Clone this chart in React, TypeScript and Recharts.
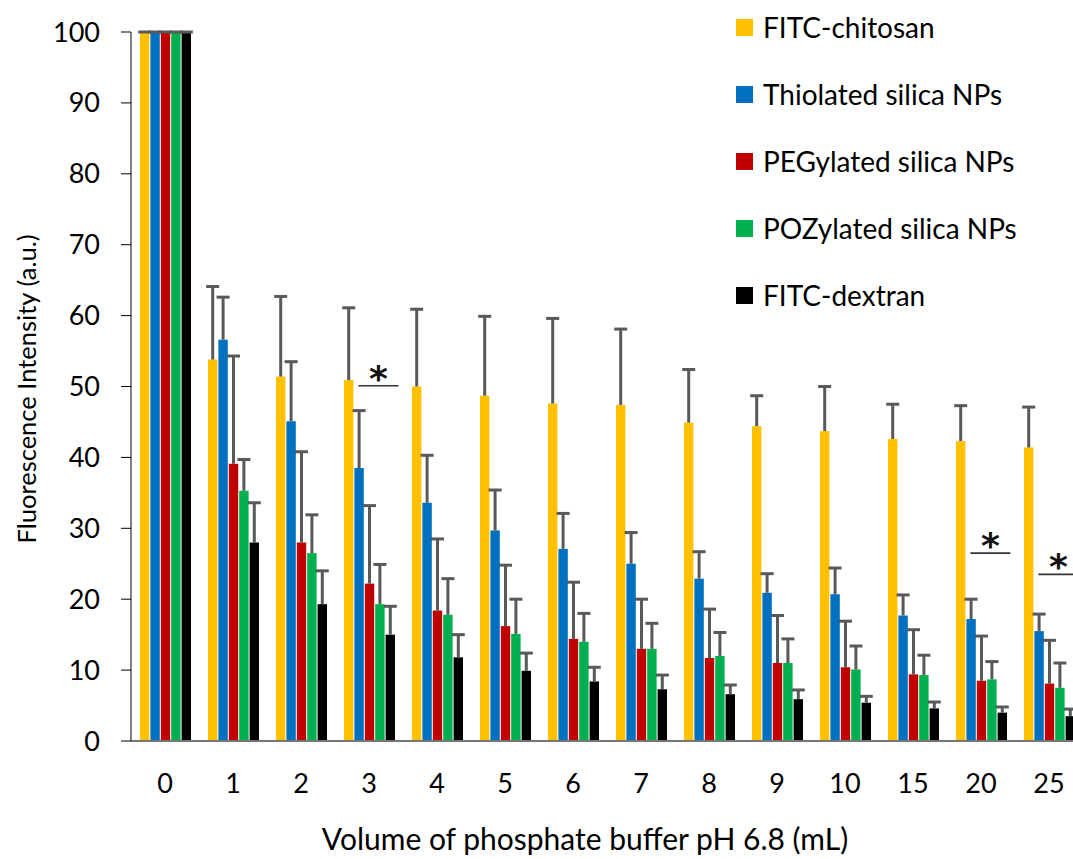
import React from 'react';
import { BarChart, Bar, XAxis, YAxis, Legend, Label } from 'recharts';

const categories = ['0', '1', '2', '3', '4', '5', '6', '7', '8', '9', '10', '15', '20', '25'];

const chitosan = [100, 53.8, 51.4, 50.9, 50.0, 48.7, 47.6, 47.4, 44.9, 44.4, 43.7, 42.6, 42.3, 41.4];
const chitosanErr = [0, 10.3, 11.3, 10.2, 10.9, 11.2, 12.0, 10.7, 7.5, 4.3, 6.3, 4.9, 5.0, 5.7];
const thiolated = [100, 56.6, 45.1, 38.5, 33.6, 29.7, 27.1, 25.0, 22.9, 20.9, 20.7, 17.7, 17.2, 15.5];
const thiolatedErr = [0, 6.0, 8.4, 8.1, 6.7, 5.7, 5.0, 4.4, 3.8, 2.7, 3.7, 2.9, 2.8, 2.4];
const pegylated = [100, 39.1, 28.0, 22.2, 18.4, 16.2, 14.4, 13.0, 11.7, 11.0, 10.4, 9.4, 8.5, 8.1];
const pegylatedErr = [0, 15.2, 12.8, 11.0, 10.1, 8.6, 8.0, 7.0, 6.9, 6.7, 6.5, 6.3, 6.3, 6.1];
const pozylated = [100, 35.3, 26.5, 19.3, 17.8, 15.1, 14.0, 13.0, 12.0, 11.0, 10.1, 9.3, 8.7, 7.5];
const pozylatedErr = [0, 4.4, 5.4, 5.6, 5.1, 4.9, 4.0, 3.6, 3.3, 3.4, 3.3, 2.8, 2.5, 3.5];
const dextran = [100, 28.0, 19.3, 15.0, 11.8, 9.9, 8.4, 7.3, 6.6, 5.9, 5.4, 4.6, 4.0, 3.5];
const dextranErr = [0, 5.6, 4.7, 4.0, 3.2, 2.5, 2.0, 2.0, 1.3, 1.3, 0.9, 0.9, 0.8, 1.0];

// level of the "*" significance bars (null = none)
const significance = [null, null, null, 50.1, null, null, null, null, null, null, null, null, 26.5, 23.5];

const seriesNames = ['FITC-chitosan', 'Thiolated silica NPs', 'PEGylated silica NPs', 'POZylated silica NPs', 'FITC-dextran'];
const seriesColors = ['#FFC000', '#0070C0', '#C00000', '#00B050', '#000000'];
const yTicks = [0, 10, 20, 30, 40, 50, 60, 70, 80, 90, 100];

const values = [chitosan, thiolated, pegylated, pozylated, dextran];
const errors = [chitosanErr, thiolatedErr, pegylatedErr, pozylatedErr, dextranErr];

const data = categories.map((cat, i) => {
  const row: any = { cat, sig: significance[i] };
  values.forEach((arr, s) => {
    row['v' + s] = arr[i];
    row['e' + s] = errors[s][i];
  });
  return row;
});

const FONT = 'Lato, "Open Sans", sans-serif';
const ERR = '#595959';

const makeShape = (s: number) => (props: any) => {
  const { x, y, width, height, fill, payload } = props;
  const v = payload['v' + s];
  const perUnit = v ? height / v : 0;
  const cx = x + width / 2;
  const errTop = y - payload['e' + s] * perUnit;
  let sigMark = null;
  if (s === 0 && payload.sig != null) {
    const ly = y + (v - payload.sig) * perUnit;
    const lx1 = x + width + 5;
    const lx2 = lx1 + 40;
    sigMark = (
      <g>
        <line x1={lx1} y1={ly} x2={lx2} y2={ly} stroke="#333" strokeWidth={1.6} />
        <text x={(lx1 + lx2) / 2} y={ly + 5} textAnchor="middle" fontFamily='"DejaVu Sans", sans-serif' fontWeight="bold" fontSize={36} fill="#111">*</text>
      </g>
    );
  }
  return (
    <g>
      <rect x={x} y={y} width={width} height={height} fill={fill} />
      <line x1={cx} y1={y} x2={cx} y2={errTop} stroke={ERR} strokeWidth={3} />
      <line x1={cx - 6.5} y1={errTop} x2={cx + 6.5} y2={errTop} stroke={ERR} strokeWidth={3} />
      {sigMark}
    </g>
  );
};

const renderLegend = () => (
  <div style={{ fontFamily: FONT, fontSize: 28, color: '#000', whiteSpace: 'nowrap' }}>
    {seriesNames.map((name, s) => (
      <div key={name} style={{ height: 67, display: 'flex', alignItems: 'center' }}>
        <span style={{ width: 17, height: 17, background: seriesColors[s], marginRight: 10, display: 'inline-block' }} />
        {name}
      </div>
    ))}
  </div>
);

export default function App() {
  return (
    <div style={{ position: 'absolute', left: 0, top: 0, width: 1073, height: 859, overflow: 'hidden', background: '#fff' }}>
      <BarChart
        width={1100}
        height={859}
        data={data}
        margin={{ top: 32, right: 17, bottom: 38, left: 0 }}
        barSize={9.4}
        barGap={1}
      >
        <XAxis
          dataKey="cat"
          interval={0}
          tickLine={false}
          tickSize={0}
          tickMargin={33}
          height={80}
          axisLine={{ stroke: '#767676', strokeWidth: 2 }}
          tick={{ fontFamily: FONT, fontSize: 27, fill: '#000' }}
        >
          <Label
            content={(p: any) => {
              const vb = p.viewBox || { x: 131, y: 741, width: 952 };
              return (
                <text x={vb.x + vb.width / 2 - 22} y={vb.y + 109} textAnchor="middle" fontFamily={FONT} fontSize={30} fill="#000">
                  Volume of phosphate buffer pH 6.8 (mL)
                </text>
              );
            }}
          />
        </XAxis>
        <YAxis
          domain={[0, 100]}
          ticks={yTicks}
          width={131}
          tickSize={10}
          tickMargin={21}
          axisLine={{ stroke: '#000' }}
          tickLine={{ stroke: '#000' }}
          tick={{ fontFamily: FONT, fontSize: 27, fill: '#000' }}
        >
          <Label
            content={() => (
              <text x={36} y={389} transform="rotate(-90, 36, 389)" textAnchor="middle" fontFamily={FONT} fontSize={25.5} fill="#000">
                Fluorescence Intensity (a.u.)
              </text>
            )}
          />
        </YAxis>
        <Legend
          layout="vertical"
          align="center"
          verticalAlign="middle"
          wrapperStyle={{ left: 736, top: -6.5, width: 337 }}
          content={renderLegend}
        />
        {seriesNames.map((name, s) => (
          <Bar key={name} dataKey={'v' + s} name={name} fill={seriesColors[s]} shape={makeShape(s)} isAnimationActive={false} />
        ))}
      </BarChart>
    </div>
  );
}
